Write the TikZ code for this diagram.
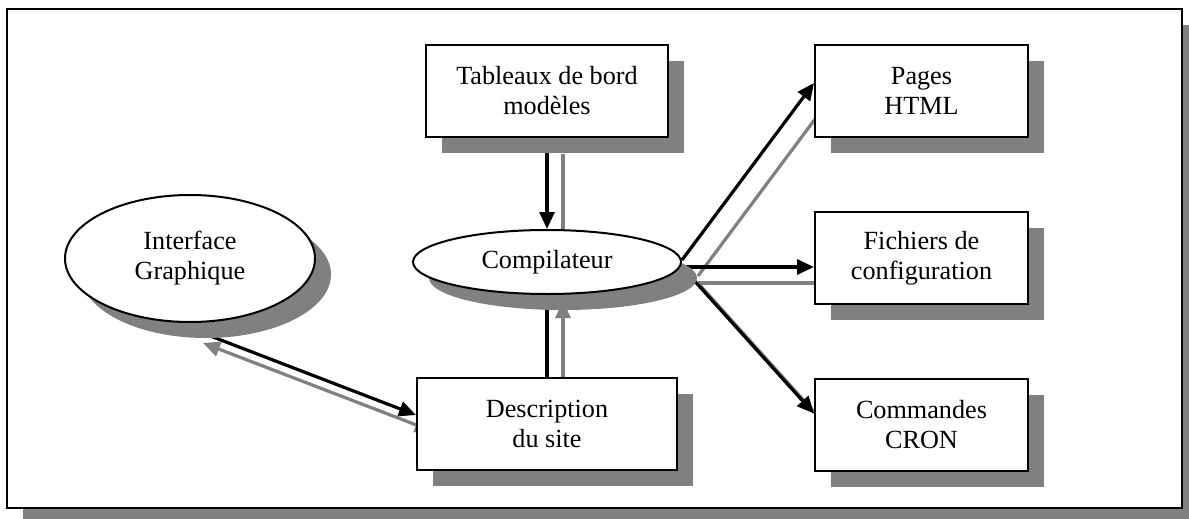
\documentclass[tikz,border=0pt]{standalone}
\usepackage{fontspec}
\setmainfont{Liberation Serif}
\usetikzlibrary{shapes.geometric,arrows.meta,shadows}
\definecolor{shadowgray}{RGB}{128,128,128}
\pgfdeclarelayer{bg}
\pgfdeclarelayer{arrows}
\pgfsetlayers{bg,arrows,main}
\begin{document}
\begin{tikzpicture}[x=1pt,y=-1pt,
  shadowed/.style={general shadow={fill=shadowgray, shadow xshift=16pt, shadow yshift=-16pt}},
  txt/.style={align=center, font=\fontsize{26.2}{30}\selectfont, inner sep=0pt},
  boxnode/.style={shadowed, draw, line width=2pt, fill=white, rectangle, txt},
  ovalnode/.style={shadowed, draw, line width=2pt, fill=white, ellipse, txt},
  tip/.style={-{Triangle[length=17pt,width=15pt]}},
  tipboth/.style={{Triangle[length=17pt,width=15pt]}-{Triangle[length=17pt,width=15pt]}},
  arr/.style={line width=3.2pt, black},
  sh/.style={line width=3.2pt, shadowgray}]
\useasboundingbox (0,0) rectangle (1189,519);

% nodes
\node[boxnode, minimum width=242pt, minimum height=92pt] (tab) at (547,91) {Tableaux de bord\\modèles};
\node[boxnode, minimum width=213pt, minimum height=92pt] (html) at (921.5,91) {Pages\\HTML};
\node[boxnode, minimum width=213pt, minimum height=92pt] (fich) at (921.5,258) {Fichiers de\\configuration};
\node[boxnode, minimum width=213pt, minimum height=92pt] (cron) at (921.5,424.5) {Commandes\\CRON};
\node[boxnode, minimum width=260pt, minimum height=92pt] (desc) at (547,424) {Description\\du site};
\node[ovalnode, minimum width=268pt, minimum height=64pt] (comp) at (547,262) {Compilateur};
\node[ovalnode, minimum width=250pt, minimum height=127pt] (gui) at (190,258.5) {Interface\\Graphique};

% frame
\begin{pgfonlayer}{bg}
\fill[shadowgray] (23,25) rectangle (1189,519);
\draw[line width=2.5pt, fill=white] (7,9) rectangle (1182,508);
\end{pgfonlayer}

% connectors
\begin{pgfonlayer}{arrows}
\coordinate (g1) at ([shift={(-3,4)}]gui.south);
\coordinate (d1) at ([shift={(0,-9)}]desc.west);
\coordinate (cb) at ([shift={(0,-10)}]comp.south);
\coordinate (c1) at ([shift={(0,-2)}]comp.east);
\coordinate (h1) at ([shift={(0,-8)}]html.west);
\coordinate (c2) at ([shift={(0,5)}]comp.east);
\coordinate (f1) at (c2 -| fich.west);
\coordinate (k1) at ([shift={(0,-11)}]cron.west);

% tableaux -> compilateur
\draw[sh] ([shift={(16,16)}]tab.south) -- ([shift={(16,16)}]comp.north);
\draw[arr, tip] (tab.south) -- (comp.north);
% description -> compilateur
\draw[sh, tip] ([shift={(16,16)}]desc.north) -- ([shift={(16,16)}]cb);
\draw[arr, tip] (desc.north) -- (cb);
% interface <-> description
\draw[sh, tipboth] ([shift={(16,16)}]g1) -- ([shift={(16,16)}]d1);
\draw[arr, tip] (g1) -- (d1);
% compilateur -> outputs
\draw[sh] ([shift={(16,16)}]c1) -- ([shift={(16,16)}]h1);
\draw[sh] ([shift={(16,16)}]c2) -- ([shift={(16,16)}]f1);
\draw[sh] ([shift={(16,16)}]c2) -- ([shift={(16,16)}]k1);
\draw[arr, tip] (c1) -- (h1);
\draw[arr, tip] (c2) -- (f1);
\draw[arr, tip] (c2) -- (k1);
\end{pgfonlayer}
\end{tikzpicture}
\end{document}
